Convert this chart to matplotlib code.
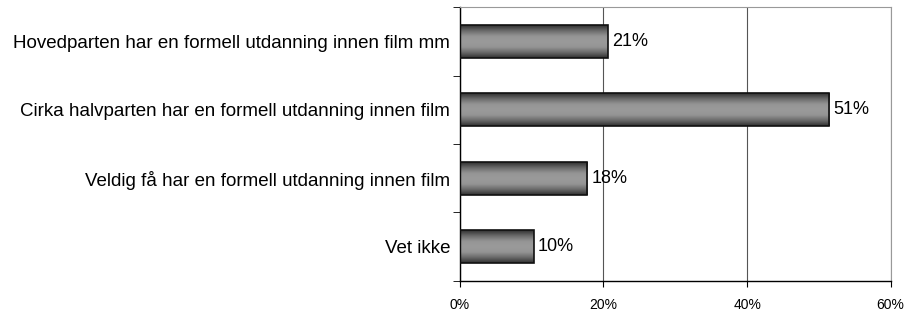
import numpy as np
import matplotlib.pyplot as plt
from matplotlib.colors import LinearSegmentedColormap
from matplotlib.ticker import FixedLocator

plt.rcParams['font.family'] = ['Liberation Sans', 'DejaVu Sans']

categories = ['Hovedparten har en formell utdanning innen film mm',
              'Cirka halvparten har en formell utdanning innen film',
              'Veldig få har en formell utdanning innen film',
              'Vet ikke']
values = [20.6, 51.4, 17.7, 10.3]
labels = ['21%', '51%', '18%', '10%']

fig = plt.figure(figsize=(9.07, 3.10), dpi=100)
ax = fig.add_axes([0.507, 0.094, 0.475, 0.883])

ypos = np.arange(len(categories))[::-1]
bh = 0.48
# dark top/bottom edges, light middle
cmap = LinearSegmentedColormap.from_list(
    'g', ['#303030', '#6a6a6a', '#959595', '#9a9a9a', '#959595', '#6a6a6a', '#303030'])
grad = np.linspace(0, 1, 100).reshape(-1, 1)

bars = ax.barh(ypos, values, height=bh, color='none', edgecolor='#111111', linewidth=1.2, zorder=3)
for b in bars:
    x0, y0 = b.get_x(), b.get_y()
    w, h = b.get_width(), b.get_height()
    im = ax.imshow(grad, cmap=cmap, aspect='auto', extent=[x0, x0 + w, y0, y0 + h],
                   origin='lower', zorder=2, interpolation='bicubic')
    im.set_clip_path(b)

for y, v, t in zip(ypos, values, labels):
    ax.text(v + 0.6, y, t, va='center', ha='left', fontsize=13)

ax.set_xlim(0, 60)
ax.set_ylim(-0.5, len(categories) - 0.5)
ax.set_xticks([0, 20, 40, 60])
ax.set_xticklabels(['0%', '20%', '40%', '60%'], fontsize=10)
ax.set_yticks(ypos)
ax.set_yticklabels(categories, fontsize=13.5)
ax.tick_params(axis='y', length=0, pad=7)
ax.yaxis.set_minor_locator(FixedLocator(np.arange(-0.5, len(categories), 1)))
ax.tick_params(axis='y', which='minor', length=5, direction='out', color='black')
ax.tick_params(axis='x', length=4, direction='out', pad=8)

ax.grid(axis='x', color='#555555', linewidth=0.8, zorder=0)
for s in ['top', 'right']:
    ax.spines[s].set_color('#999999')
    ax.spines[s].set_linewidth(0.8)
for s in ['left', 'bottom']:
    ax.spines[s].set_color('black')
    ax.spines[s].set_linewidth(1)

fig.savefig('out.png', dpi=100)
